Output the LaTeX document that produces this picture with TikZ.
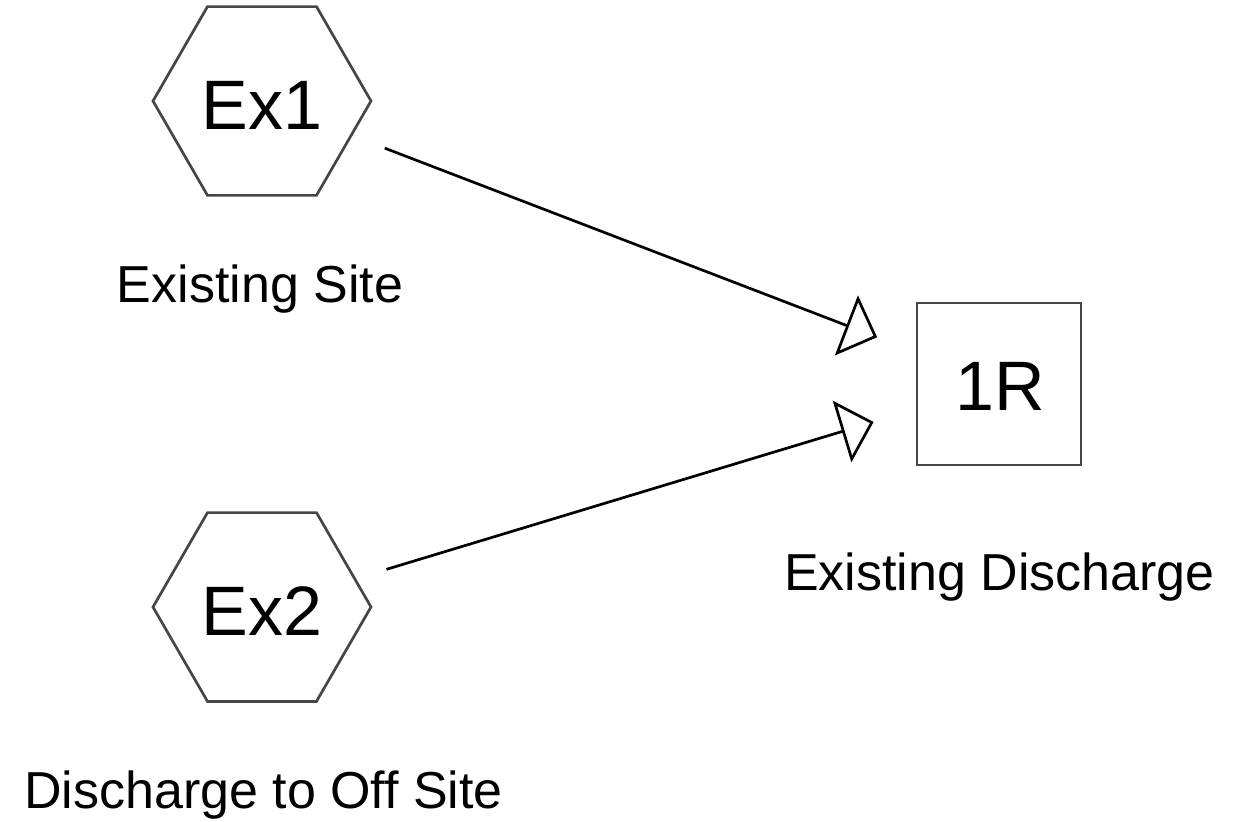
\documentclass[tikz,border=0pt]{standalone}
\usepackage{fontspec}
\setmainfont{Liberation Sans}
\usetikzlibrary{shapes.geometric,arrows.meta}
\definecolor{edgegray}{RGB}{70,70,70}
\tikzset{
  site/.style={regular polygon, regular polygon sides=6, minimum size=218pt,
    inner sep=0pt, draw=edgegray, line width=2.7pt},
  outlet/.style={rectangle, minimum width=164pt, minimum height=162pt,
    inner sep=0pt, draw=edgegray, line width=2.7pt},
  tag/.style={inner sep=0pt, font=\fontsize{70}{80}\selectfont},
  caption/.style={anchor=base, inner sep=0pt, font=\fontsize{52}{60}\selectfont},
  flow/.style={line width=2.7pt, -{Triangle[open,length=33pt,width=64pt]}}
}
\begin{document}
\begin{tikzpicture}[x=1pt,y=-1pt]
  \useasboundingbox (0,0) rectangle (1235,822);

  % sites
  \node[site] (ex1) at (262,101) {};
  \node[site] (ex2) at (262,607) {};
  \node[tag] (ex1txt) at (262,105) {Ex1};
  \node[tag] (ex2txt) at (262,611) {Ex2};
  \node[caption] (ex1lbl) at (260,302) {Existing Site};
  \node[caption] (ex2lbl) at (263.5,808) {Discharge to Off Site};

  % receiving discharge point
  \node[outlet] (r1) at (999,384) {};
  \node[tag] (r1txt) at (1000,386.5) {1R};
  \node[caption] (r1lbl) at (999.5,590) {Existing Discharge};

  % flows into the discharge point
  \draw[flow, shorten <=131.5pt, shorten >=130.5pt] (ex1.center) -- (r1.center);
  \draw[flow, shorten <=130pt, shorten >=131pt] (ex2.center) -- (r1.center);
\end{tikzpicture}
\end{document}
